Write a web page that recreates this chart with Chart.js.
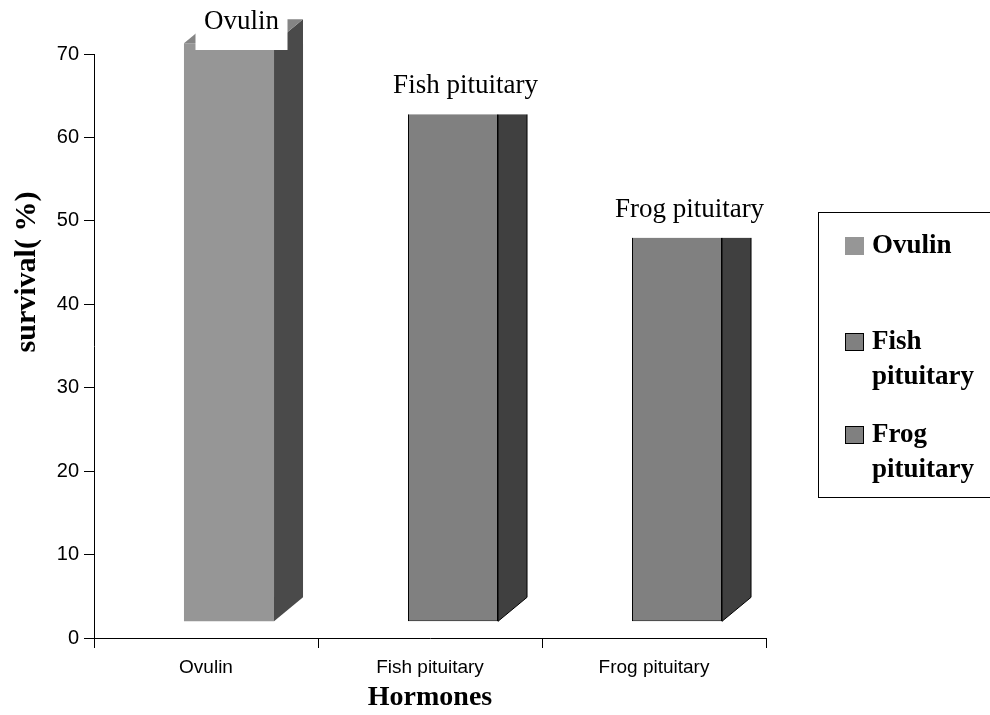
<!DOCTYPE html>
<html>
<head>
<meta charset="utf-8">
<script src="https://cdn.jsdelivr.net/npm/chart.js@4.4.1/dist/chart.umd.min.js"></script>
<style>
  html, body { margin: 0; padding: 0; background: #fff; }
  #wrap { width: 990px; height: 715px; position: relative; }
</style>
</head>
<body>
<div id="wrap"><canvas id="myChart"></canvas></div>
<script>
// donnees du graphique
const categories = ['Ovulin', 'Fish pituitary', 'Frog pituitary'];
const survival = [71.3, 63.0, 48.2];
const yTicks = [0, 10, 20, 30, 40, 50, 60, 70];
const legendLines = [['Ovulin'], ['Fish', 'pituitary'], ['Frog', 'pituitary']];

// style 3D (faux relief a la Excel)
const floorValue = 2;
const DX = 29, DY = 24, SHIFT = 23;
const frontColors = ['#969696', '#808080', '#808080'];
const sideColors = ['#4a4a4a', '#404040', '#404040'];
const topColors = ['#858585', null, null];
const edgeColors = [null, '#000', '#000'];
const serif = '"Liberation Serif", "Times New Roman", serif';
const sans = '"Liberation Sans", Arial, sans-serif';

// faces laterales + etiquettes
const bar3d = {
  id: 'bar3d',
  beforeDatasetsDraw(chart) {
    chart.ctx.save();
    chart.ctx.translate(SHIFT, 0);
  },
  afterDatasetsDraw(chart) {
    const ctx = chart.ctx;
    chart.getDatasetMeta(0).data.forEach((bar, i) => {
      const p = bar.getProps(['x', 'y', 'base', 'width'], true);
      const x0 = p.x - p.width / 2, x1 = p.x + p.width / 2;
      const topY = topColors[i] ? p.y - DY : p.y;
      ctx.beginPath();
      ctx.moveTo(x1, p.y);
      ctx.lineTo(x1 + DX, topY);
      ctx.lineTo(x1 + DX, p.base - DY);
      ctx.lineTo(x1, p.base);
      ctx.closePath();
      ctx.fillStyle = sideColors[i];
      ctx.fill();
      if (edgeColors[i]) {
        ctx.strokeStyle = edgeColors[i];
        ctx.lineWidth = 1;
        ctx.stroke();
      }
      if (topColors[i]) {
        ctx.beginPath();
        ctx.moveTo(x0, p.y);
        ctx.lineTo(x0 + DX, p.y - DY);
        ctx.lineTo(x1 + DX, p.y - DY);
        ctx.lineTo(x1, p.y);
        ctx.closePath();
        ctx.fillStyle = topColors[i];
        ctx.fill();
      }
    });
    // etiquettes de valeur
    ctx.font = '27px ' + serif;
    ctx.textAlign = 'center';
    ctx.textBaseline = 'middle';
    chart.getDatasetMeta(0).data.forEach((bar, i) => {
      const p = bar.getProps(['x', 'y', 'width'], true);
      const cx = p.x + DX / 2 - 2;
      const cy = Math.max(p.y - 26, 22);
      const w = ctx.measureText(categories[i]).width + 17;
      ctx.fillStyle = '#fff';
      ctx.fillRect(cx - w / 2, cy - 22, w, 50);
      ctx.fillStyle = '#000';
      ctx.fillText(categories[i], cx, cy);
    });
    ctx.restore();
  },
  afterDraw(chart) {
    const ctx = chart.ctx;
    const area = chart.chartArea;
    ctx.save();
    // titre axe y
    ctx.translate(27, 272);
    ctx.rotate(-Math.PI / 2);
    ctx.font = 'bold 30px ' + serif;
    ctx.fillStyle = '#000';
    ctx.textAlign = 'center';
    ctx.textBaseline = 'middle';
    ctx.fillText('survival( %)', 0, 0);
    ctx.restore();

    // legende
    ctx.save();
    const lx = area.right + 52;
    ctx.strokeStyle = '#000';
    ctx.lineWidth = 1;
    ctx.strokeRect(lx + 0.5, 212.5, 200, 285);
    const rowY = [246, 342, 435];
    ctx.font = 'bold 27px ' + serif;
    ctx.textAlign = 'left';
    ctx.textBaseline = 'middle';
    legendLines.forEach((lines, i) => {
      ctx.fillStyle = frontColors[i];
      ctx.fillRect(lx + 27, rowY[i] - 9, 19, 18);
      if (edgeColors[i]) {
        ctx.strokeStyle = edgeColors[i];
        ctx.strokeRect(lx + 27.5, rowY[i] - 8.5, 18, 17);
      }
      ctx.fillStyle = '#000';
      lines.forEach((t, j) => ctx.fillText(t, lx + 54, rowY[i] + j * 35));
    });
    ctx.restore();
  }
};

const ctx = document.getElementById('myChart').getContext('2d');

const config = {
  type: 'bar',
  data: {
    labels: categories,
    datasets: [{
      data: survival,
      base: floorValue,
      backgroundColor: frontColors,
      borderColor: edgeColors.map(c => c || 'rgba(0,0,0,0)'),
      borderWidth: edgeColors.map(c => c ? 1 : 0),
      borderSkipped: false,
      barPercentage: 0.402,
      categoryPercentage: 1,
      clip: false
    }]
  },
  options: {
    responsive: true,
    maintainAspectRatio: false,
    animation: false,
    layout: { padding: { top: 54, right: 224, left: 0, bottom: 0 } },
    plugins: {
      legend: { display: false },
      tooltip: { enabled: false }
    },
    scales: {
      x: {
        afterFit: s => { s.height = 77; },
        grid: { offset: true, drawOnChartArea: false, tickLength: 10, color: '#000' },
        border: { color: '#000' },
        ticks: { color: '#000', font: { family: sans, size: 19 }, padding: 8, maxRotation: 0 },
        title: {
          display: true,
          text: 'Hormones',
          color: '#000',
          font: { family: serif, size: 28, weight: 'bold' },
          padding: { top: 0, bottom: 0 }
        }
      },
      y: {
        min: 0,
        max: 70,
        afterFit: s => { s.width = 94; },
        afterBuildTicks: s => { s.ticks = yTicks.map(v => ({ value: v })); },
        grid: { drawOnChartArea: false, tickLength: 10, color: '#000' },
        border: { color: '#000' },
        ticks: { color: '#000', font: { family: sans, size: 20 }, padding: 5 }
      }
    }
  },
  plugins: [bar3d]
};

const chart = new Chart(ctx, config);
</script>
</body>
</html>
